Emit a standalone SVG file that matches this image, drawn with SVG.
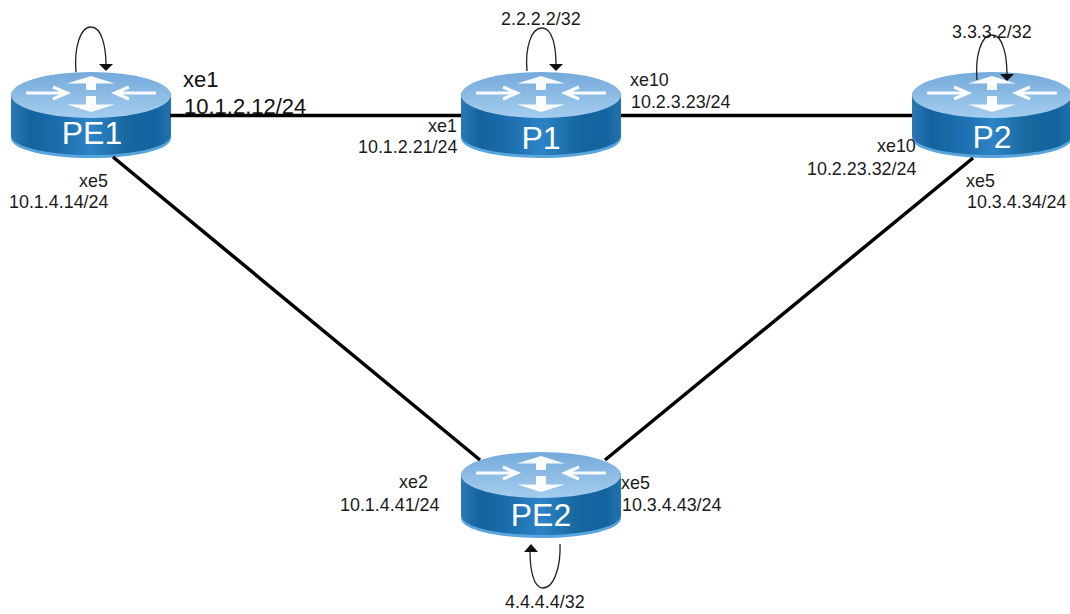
<svg xmlns="http://www.w3.org/2000/svg" width="1070" height="614" viewBox="0 0 1070 614">
<style>
text{font-family:"Liberation Sans",Arial,sans-serif;font-size:17.9px;fill:#1a1a1a}
.big{font-size:22px;fill:#111}
.name{font-size:32px;fill:#fff;text-anchor:middle}
.link{stroke:#000;stroke-width:3.5;fill:none}
.loop{stroke:#222;stroke-width:1.3;fill:none}
.a{stroke:#fff;stroke-width:3.2;fill:none;opacity:.95}
.h{fill:#fff;opacity:.95}
</style>
<defs>
<linearGradient id="side" x1="0" x2="1" y1="0" y2="0">
<stop offset="0" stop-color="#2a79b4"/><stop offset=".12" stop-color="#14639f"/><stop offset=".28" stop-color="#1a6cab"/><stop offset=".5" stop-color="#2c83c6"/><stop offset=".72" stop-color="#17689f"/><stop offset=".9" stop-color="#12639f"/><stop offset="1" stop-color="#2273ad"/>
</linearGradient>
<linearGradient id="top" x1="0" x2="0" y1="0" y2="1">
<stop offset="0" stop-color="#74aadb"/><stop offset="1" stop-color="#a5cdee"/>
</linearGradient>
<g id="router">
<path d="M-80 21V66C-80 78-44 86 0 86S80 78 80 66V21Z" fill="#5aa4dc"/>
<path d="M-80 21V63C-80 75-44 83 0 83S80 75 80 63V21Z" fill="url(#side)"/>
<ellipse cx="0" cy="23" rx="80" ry="23" fill="url(#top)"/>
<path class="a" d="M-65 21H-26M-38 15L-24 21L-38 27"/>
<path class="a" d="M65 21H26M38 15L24 21L38 27"/>
<path class="h" d="M0 4L24 11.500H5V18H-5V11.500H-24Z"/>
<path class="h" d="M0 40L24 32.500H5V24H-5V32.500H-24Z"/>
</g>
</defs>
<g id="PE1"><use href="#router" x="91" y="72"/><text class="name" x="92" y="144">PE1</text></g>
<g id="P1"><use href="#router" x="541" y="72"/><text class="name" x="541" y="149">P1</text></g>
<g id="P2"><use href="#router" x="992" y="72"/><text class="name" x="992" y="148">P2</text></g>
<g id="PE2"><use href="#router" x="541" y="452"/><text class="name" x="541" y="526">PE2</text></g>
<g id="connectors">
<path class="link" d="M170 115.500H461"/>
<path class="link" d="M621 115.500H912"/>
<path class="link" d="M113 157L480 460"/>
<path class="link" d="M973 158L605 460"/>
<path class="loop" d="M76 72C74 48 80 27 91 27C102 27 106 48 106 65"/>
<path d="M99 64H113L106 71Z" fill="#111"/>
<path class="loop" d="M527 71C525 48 531 28 542 28C553 28 556 48 556 65"/>
<path d="M549 64H563L556 71Z" fill="#111"/>
<path class="loop" d="M977 80C975 56 981 35 992 35C1003 35 1007 56 1007 75"/>
<path d="M1000 74H1014L1007 81Z" fill="#111"/>
<path class="loop" d="M560 544C561 566 554 588 543 588C533 588 530 568 530 551"/>
<path d="M524 552H538L531 544Z" fill="#111"/>
</g>
<g id="labels">
<text class="big" x="183" y="87">xe1</text>
<text class="big" x="184" y="114">10.1.2.12/24</text>
<text x="79" y="187">xe5</text>
<text x="9" y="208">10.1.4.14/24</text>
<text x="428" y="132">xe1</text>
<text x="358" y="153">10.1.2.21/24</text>
<text x="501" y="25">2.2.2.2/32</text>
<text x="630" y="86">xe10</text>
<text x="631" y="108">10.2.3.23/24</text>
<text x="952" y="38">3.3.3.2/32</text>
<text x="877" y="152">xe10</text>
<text x="807" y="175">10.2.23.32/24</text>
<text x="966" y="187">xe5</text>
<text x="967" y="208">10.3.4.34/24</text>
<text x="399" y="488">xe2</text>
<text x="340" y="511">10.1.4.41/24</text>
<text x="621" y="489">xe5</text>
<text x="622" y="511">10.3.4.43/24</text>
<text x="505" y="608">4.4.4.4/32</text>
</g>
</svg>
